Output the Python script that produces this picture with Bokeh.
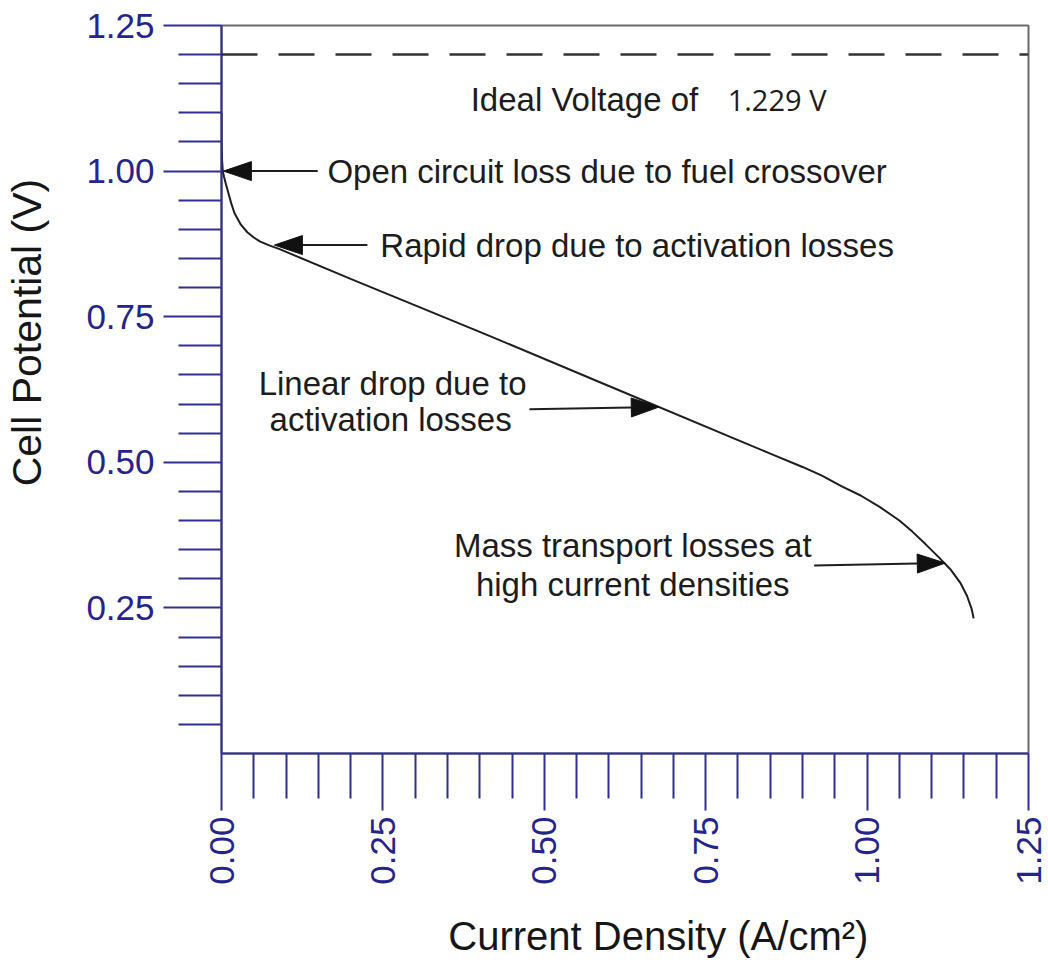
import math
from bokeh.plotting import figure
from bokeh.models import Range1d, FixedTicker, Span, LinearAxis
from bokeh.core.properties import value
from bokeh.embed import file_html
from bokeh.resources import INLINE

# ---- data ----
current_density = [0.0, 0.0, 0.0008, 0.002, 0.004, 0.007, 0.01, 0.015, 0.02, 0.03,
                   0.04, 0.05, 0.06, 0.075, 0.09, 0.2, 0.4, 0.6, 0.8, 0.85,
                   0.9, 0.93, 0.96, 0.99, 1.02, 1.05, 1.07, 1.09, 1.11, 1.13,
                   1.145, 1.155, 1.162, 1.165]
cell_potential = [1.10, 1.05, 1.02, 1.00, 0.99, 0.977, 0.965, 0.945, 0.928, 0.908,
                  0.895, 0.886, 0.879, 0.872, 0.866, 0.815, 0.724, 0.631, 0.538, 0.515,
                  0.492, 0.477, 0.459, 0.443, 0.423, 0.400, 0.381, 0.360, 0.338, 0.315,
                  0.292, 0.270, 0.248, 0.232]

ideal_voltage_level = 1.2

x_major_ticks = [0.0, 0.25, 0.5, 0.75, 1.0, 1.25]
x_tick_labels = ["0.00", "0.25", "0.50", "0.75", "1.00", "1.25"]
x_minor_ticks = [0.05, 0.10, 0.15, 0.20, 0.30, 0.35, 0.40, 0.45, 0.55, 0.60, 0.65, 0.70,
                 0.80, 0.85, 0.90, 0.95, 1.05, 1.10, 1.15, 1.20]
y_major_ticks = [0.25, 0.5, 0.75, 1.0, 1.25]
y_tick_labels = ["0.25", "0.50", "0.75", "1.00", "1.25"]
y_minor_ticks = [0.05, 0.10, 0.15, 0.20, 0.30, 0.35, 0.40, 0.45, 0.55, 0.60, 0.65, 0.70,
                 0.80, 0.85, 0.90, 0.95, 1.05, 1.10, 1.15, 1.20]

x_title = "Current Density (A/cm²)"
y_title = "Cell Potential (V)"
# the titles sit off-centre in the reference: pad with no-break spaces
x_title_pad = 6
y_title_pad = 10

# annotations (left aligned)
left_text = ["Ideal Voltage of", "Open circuit loss due to fuel crossover",
             "Rapid drop due to activation losses"]
left_x = [0.386, 0.164, 0.246]
left_y = [1.123, 1.0, 0.873]
# annotations (centred)
center_text = ["Linear drop due to", "activation losses",
               "Mass transport losses at", "high current densities"]
center_x = [0.265, 0.262, 0.637, 0.637]
center_y = [0.636, 0.573, 0.358, 0.291]
value_text = ["1.229 V"]
value_x = [0.784]
value_y = [1.123]

# arrows: tail -> tip
arrow_tail_x = [0.149, 0.226, 0.477, 0.918]
arrow_tail_y = [1.0, 0.873, 0.591, 0.323]
arrow_tip_x = [0.003, 0.082, 0.678, 1.121]
arrow_tip_y = [1.0, 0.873, 0.595, 0.327]

X_RANGE = (0.0, 1.25)
Y_RANGE = (0.0, 1.25)

W, H = 1048, 969
ML, MR, MT, MB = 219, 20, 25, 216

NAVY = "#24248c"
AXIS_COL = "#2e2e96"
FONT = "Liberation Sans"
NBSP = "\u00a0"

p = figure(width=W, height=H, output_backend="svg", toolbar_location=None,
           x_range=Range1d(*X_RANGE), y_range=Range1d(*Y_RANGE),
           min_border_left=ML, min_border_right=MR, min_border_top=MT, min_border_bottom=MB)
p.background_fill_color = "white"
p.border_fill_color = "white"
p.outline_line_color = "#6a6a6a"
p.outline_line_width = 2
p.grid.visible = False

# axes
p.xaxis.ticker = FixedTicker(ticks=x_major_ticks, minor_ticks=x_minor_ticks)
p.yaxis.ticker = FixedTicker(ticks=y_major_ticks, minor_ticks=y_minor_ticks)
p.xaxis.major_label_overrides = {t: l for t, l in zip(x_major_ticks, x_tick_labels)}
p.yaxis.major_label_overrides = {t: l for t, l in zip(y_major_ticks, y_tick_labels)}

for ax in (p.xaxis[0], p.yaxis[0]):
    ax.axis_line_color = AXIS_COL
    ax.axis_line_width = 2
    ax.major_tick_line_color = AXIS_COL
    ax.minor_tick_line_color = AXIS_COL
    ax.major_tick_line_width = 2
    ax.minor_tick_line_width = 2
    ax.major_tick_in = 0
    ax.minor_tick_in = 0
    ax.major_label_text_font = FONT
    ax.major_label_text_font_size = "35px"
    ax.major_label_text_color = NAVY

p.xaxis.major_tick_out = 57
p.xaxis.minor_tick_out = 45
p.xaxis.major_label_orientation = math.pi / 2
p.xaxis.major_label_standoff = 6

p.yaxis.major_tick_out = 58
p.yaxis.minor_tick_out = 43
p.yaxis.major_label_standoff = 9


def title_axis(label, size, standoff):
    return LinearAxis(ticker=FixedTicker(ticks=[]), axis_label=label,
                      axis_line_color=None, major_tick_line_color=None,
                      minor_tick_line_color=None, major_tick_in=0, major_tick_out=0,
                      minor_tick_in=0, minor_tick_out=0, major_label_standoff=0,
                      major_label_text_font_size="1px",
                      axis_label_standoff=standoff, axis_label_text_font=FONT,
                      axis_label_text_font_size=size, axis_label_text_font_style="normal",
                      axis_label_text_color="#161616")


p.add_layout(title_axis(NBSP * x_title_pad + x_title, "40px", 26), "below")
p.add_layout(title_axis(NBSP * y_title_pad + y_title, "41px", 34), "left")

# ideal voltage dashed line
p.add_layout(Span(location=ideal_voltage_level, dimension="width", line_color="#333333",
                  line_width=2.5, line_dash="36 21"))

# polarisation curve
p.line(current_density, cell_potential, line_color="#1e1e1e", line_width=2)

# texts
p.text(x=left_x, y=left_y, text=left_text, text_font=value(FONT),
       text_font_size=value("33px"), text_color="#1c1c1c", text_align="left",
       text_baseline="middle")
p.text(x=center_x, y=center_y, text=center_text, text_font=value(FONT),
       text_font_size=value("33px"), text_color="#1c1c1c", text_align="center",
       text_baseline="middle")
p.text(x=value_x, y=value_y, text=value_text, text_font=value("Open Sans"),
       text_font_size=value("29px"), text_color="#1c1c1c", text_align="left",
       text_baseline="middle")

# arrows: shafts and filled heads (head size given in pixels, converted via the scales)
ppx = (W - ML - MR) / (X_RANGE[1] - X_RANGE[0])
ppy = (H - MT - MB) / (Y_RANGE[1] - Y_RANGE[0])
HEAD_LEN, HEAD_HALF_W = 28, 9.5
base_x, base_y, head_xs, head_ys = [], [], [], []
for sx, sy, tx, ty in zip(arrow_tail_x, arrow_tail_y, arrow_tip_x, arrow_tip_y):
    dxp, dyp = (tx - sx) * ppx, (ty - sy) * ppy
    L = math.hypot(dxp, dyp)
    ux, uy = dxp / L, dyp / L
    nx, ny = -uy * HEAD_HALF_W, ux * HEAD_HALF_W
    bx, by = tx - ux * HEAD_LEN / ppx, ty - uy * HEAD_LEN / ppy
    base_x.append(bx)
    base_y.append(by)
    head_xs.append([tx, bx + nx / ppx, bx - nx / ppx])
    head_ys.append([ty, by + ny / ppy, by - ny / ppy])

p.segment(x0=arrow_tail_x, y0=arrow_tail_y, x1=base_x, y1=base_y,
          line_color="#1e1e1e", line_width=2)
p.patches(xs=head_xs, ys=head_ys, fill_color="#111111", line_color="#111111", line_width=1)

open("out.html", "w").write(file_html(p, INLINE))
